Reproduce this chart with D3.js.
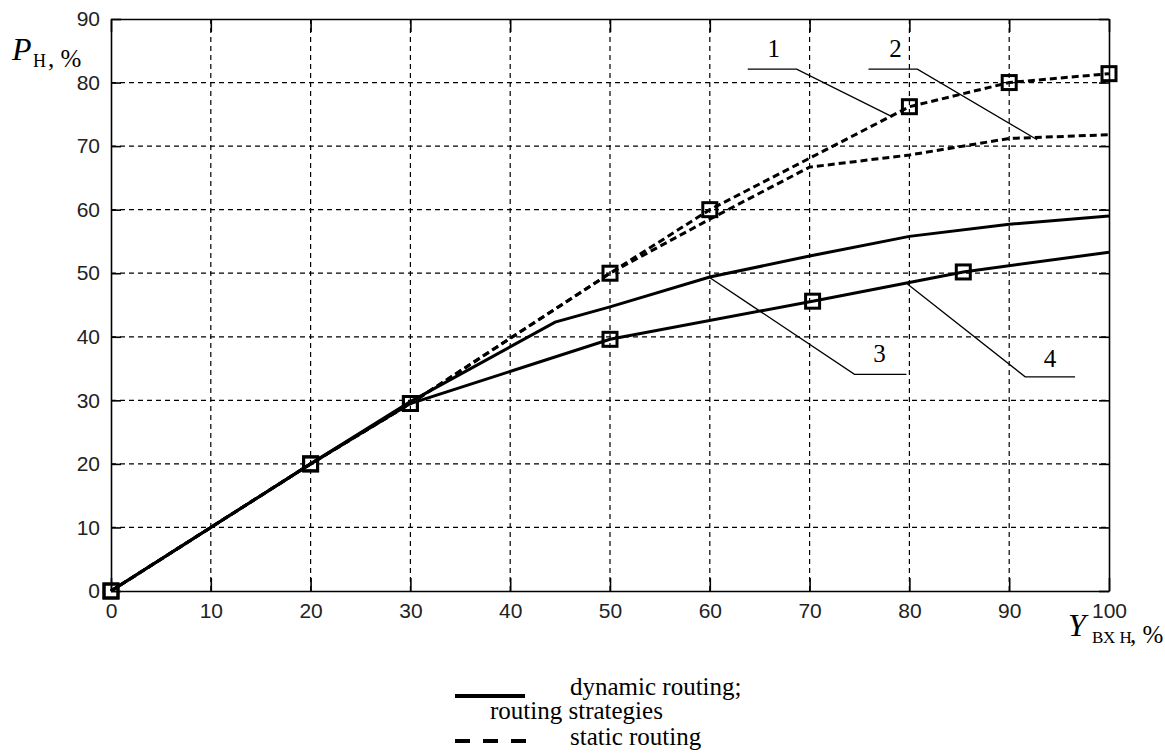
<!DOCTYPE html>
<html>
<head>
<meta charset="utf-8">
<script src="https://cdn.jsdelivr.net/npm/d3@7"></script>
<style>
  body { margin: 0; background: #fff; }
  svg { display: block; }
  .tick text { font-family: "Liberation Sans", Arial, sans-serif; font-size: 21px; fill: #222; }
  .serif { font-family: "Liberation Serif", "Times New Roman", serif; fill: #000; }
</style>
</head>
<body>
<svg id="chart" width="1165" height="754"></svg>
<script>
// curve data: x = Y_вх н (%), y = P_н (%)
const curve1X = [0, 20, 30, 50, 60, 80, 90, 100];
const curve1Y = [0, 20, 29.5, 50, 60, 76.2, 80, 81.4];
const curve1Markers = [0, 20, 30, 50, 60, 80, 90, 100];

const curve2X = [0, 20, 30, 50, 60, 70, 80, 90, 100];
const curve2Y = [0, 20, 29.5, 50, 58.5, 66.7, 68.6, 71.2, 71.8];

const curve3X = [0, 20, 30, 44.5, 50, 60, 70, 80, 90, 100];
const curve3Y = [0, 20, 29.8, 42.3, 44.7, 49.4, 52.7, 55.8, 57.7, 59];

const curve4X = [0, 20, 30, 50, 70.3, 85.4, 100];
const curve4Y = [0, 20, 29.5, 39.6, 45.6, 50.2, 53.3];
const curve4Markers = [0, 20, 30, 50, 70.3, 85.4];

const xTicks = [0, 10, 20, 30, 40, 50, 60, 70, 80, 90, 100];
const yTicks = [0, 10, 20, 30, 40, 50, 60, 70, 80, 90];

// leader lines for the curve numbers: start -> knee -> end, and label position
const labelNames = ['1', '2', '3', '4'];
const leaderPoints = [
    [[63.8, 82.1], [68.7, 82.1], [78.3, 74.6]],
    [[75.9, 82.1], [80.8, 82.1], [92.8, 71.0]],
    [[59.9, 49.4], [74.5, 34.1], [79.7, 34.1]],
    [[79.8, 48.3], [91.6, 33.7], [96.6, 33.7]],
];
const labelPos = [[66.4, 84.0], [78.6, 84.0], [77.0, 36.0], [94.1, 35.3]];

const svg = d3.select('#chart');
const plotLeft = 111, plotRight = 1109, plotTop = 19, plotBottom = 591;

const x = d3.scaleLinear().domain([0, 100]).range([plotLeft, plotRight]);
const y = d3.scaleLinear().domain([0, 90]).range([plotBottom, plotTop]);

// grid
const grid = svg.append('g').attr('stroke', '#000').attr('stroke-width', 1.2).attr('stroke-dasharray', '5,4');
grid.selectAll('line.gx').data(xTicks.slice(1, -1)).enter().append('line')
    .attr('x1', (d) => x(d)).attr('x2', (d) => x(d)).attr('y1', plotTop).attr('y2', plotBottom);
grid.selectAll('line.gy').data(yTicks.slice(1, -1)).enter().append('line')
    .attr('y1', (d) => y(d)).attr('y2', (d) => y(d)).attr('x1', plotLeft).attr('x2', plotRight);

// axes (ticks inside, box on all sides)
function styleAxis(sel) {
    sel.select('.domain').attr('stroke', '#000').attr('stroke-width', 1.6);
    sel.selectAll('.tick line').attr('stroke', '#000').attr('stroke-width', 1.6);
}
svg.append('g').attr('transform', `translate(0,${plotBottom})`)
    .call(d3.axisBottom(x).tickValues(xTicks).tickSizeInner(-13).tickSizeOuter(0))
    .call(styleAxis)
    .call((g) => g.selectAll('.tick text').attr('dy', '0.71em').attr('y', 12));
svg.append('g').attr('transform', `translate(0,${plotTop})`)
    .call(d3.axisTop(x).tickValues(xTicks).tickSizeInner(-13).tickSizeOuter(0).tickFormat(''))
    .call(styleAxis);
svg.append('g').attr('transform', `translate(${plotLeft},0)`)
    .call(d3.axisLeft(y).tickValues(yTicks).tickSizeInner(-10).tickSizeOuter(0))
    .call(styleAxis)
    .call((g) => g.selectAll('.tick text').attr('x', -11));
svg.append('g').attr('transform', `translate(${plotRight},0)`)
    .call(d3.axisRight(y).tickValues(yTicks).tickSizeInner(-10).tickSizeOuter(0).tickFormat(''))
    .call(styleAxis);

// curves
const line = d3.line().x((d) => x(d[0])).y((d) => y(d[1]));
const curves = [
    { xs: curve1X, ys: curve1Y, dash: '7,4' },
    { xs: curve2X, ys: curve2Y, dash: '7,4' },
    { xs: curve3X, ys: curve3Y, dash: null },
    { xs: curve4X, ys: curve4Y, dash: null },
];
curves.forEach((c) => {
    svg.append('path')
        .datum(c.xs.map((v, i) => [v, c.ys[i]]))
        .attr('d', line)
        .attr('fill', 'none')
        .attr('stroke', '#000')
        .attr('stroke-width', 3)
        .attr('stroke-dasharray', c.dash);
});

// square markers
function drawMarkers(xs, ys, at) {
    const pts = at.map((v) => [v, ys[xs.indexOf(v)]]);
    svg.append('g').selectAll('rect').data(pts).enter().append('rect')
        .attr('x', (d) => x(d[0]) - 7)
        .attr('y', (d) => y(d[1]) - 7)
        .attr('width', 14)
        .attr('height', 14)
        .attr('fill', 'none')
        .attr('stroke', '#000')
        .attr('stroke-width', 3);
}
drawMarkers(curve1X, curve1Y, curve1Markers);
drawMarkers(curve4X, curve4Y, curve4Markers);

// leader lines with curve numbers
leaderPoints.forEach((pts, i) => {
    svg.append('path')
        .datum(pts)
        .attr('d', line)
        .attr('fill', 'none')
        .attr('stroke', '#000')
        .attr('stroke-width', 1.3);
    svg.append('text')
        .attr('class', 'serif')
        .attr('x', x(labelPos[i][0]))
        .attr('y', y(labelPos[i][1]))
        .attr('text-anchor', 'middle')
        .attr('font-size', '25px')
        .text(labelNames[i]);
});

// y axis title
const yTitle = svg.append('text').attr('class', 'serif').attr('x', 12).attr('y', 60);
yTitle.append('tspan').attr('font-size', '32px').attr('font-style', 'italic').text('P');
yTitle.append('tspan').attr('font-size', '18px').attr('x', 33).attr('y', 67).text('Н');
yTitle.append('tspan').attr('font-size', '25px').attr('x', 48).attr('y', 67).text(', %');

// x axis title
const xTitle = svg.append('text').attr('class', 'serif').attr('x', 1068).attr('y', 636);
xTitle.append('tspan').attr('font-size', '32px').attr('font-style', 'italic').text('Y');
xTitle.append('tspan').attr('font-size', '17px').attr('x', 1092).attr('y', 643).text('ВХ Н');
xTitle.append('tspan').attr('font-size', '25px').attr('x', 1130).attr('y', 643).text(', %');

// legend
const legend = svg.append('g');
legend.append('line').attr('x1', 455).attr('x2', 525).attr('y1', 696).attr('y2', 696)
    .attr('stroke', '#000').attr('stroke-width', 4);
legend.append('line').attr('x1', 455).attr('x2', 527).attr('y1', 741).attr('y2', 741)
    .attr('stroke', '#000').attr('stroke-width', 4).attr('stroke-dasharray', '15,13');
legend.append('text').attr('class', 'serif').attr('x', 570).attr('y', 695).attr('font-size', '25px').text('dynamic routing;');
legend.append('text').attr('class', 'serif').attr('x', 490).attr('y', 719).attr('font-size', '25px').text('routing strategies');
legend.append('text').attr('class', 'serif').attr('x', 570).attr('y', 745).attr('font-size', '25px').text('static routing');
</script>
</body>
</html>
